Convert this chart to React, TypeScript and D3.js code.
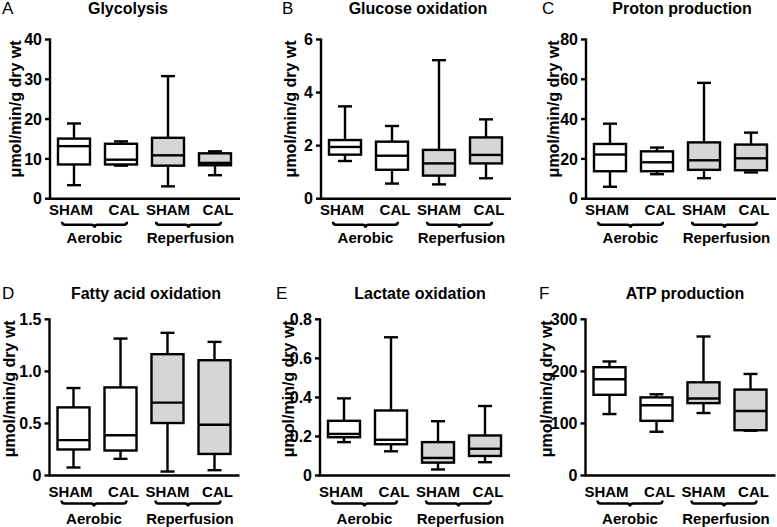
import React from "react";
import * as d3 from "d3";

const W = 777;
const H = 527;
const FONT = "'Liberation Sans', Arial, Helvetica, sans-serif";

const groupLabels = ["SHAM", "CAL", "SHAM", "CAL"];
const conditions = ["Aerobic", "Reperfusion"];
const isReperfusion = [false, false, true, true];

// each group: [whisker low, q1, median, q3, whisker high]
const glycolysis = [
  [3.4, 8.6, 13.2, 15.1, 18.9],
  [8.3, 8.6, 9.8, 13.8, 14.4],
  [3.1, 8.3, 10.9, 15.3, 30.8],
  [5.9, 8.4, 9.0, 11.4, 11.9],
];
const glucoseOxidation = [
  [1.42, 1.66, 1.95, 2.21, 3.48],
  [0.57, 1.09, 1.62, 2.15, 2.74],
  [0.54, 0.87, 1.33, 1.84, 5.22],
  [0.77, 1.33, 1.65, 2.31, 2.99],
];
const protonProduction = [
  [6, 13.8, 22.2, 27.5, 37.7],
  [12.3, 13.8, 18.3, 23.8, 25.7],
  [10.3, 14.5, 19.3, 28.3, 58.2],
  [13.2, 14.3, 20.3, 27.2, 33.2],
];
const fattyAcidOxidation = [
  [0.077, 0.25, 0.34, 0.654, 0.84],
  [0.16, 0.24, 0.386, 0.846, 1.315],
  [0.038, 0.504, 0.7, 1.165, 1.37],
  [0.051, 0.207, 0.488, 1.107, 1.283],
];
const lactateOxidation = [
  [0.171, 0.196, 0.213, 0.28, 0.395],
  [0.124, 0.16, 0.183, 0.333, 0.708],
  [0.031, 0.066, 0.09, 0.171, 0.278],
  [0.068, 0.1, 0.137, 0.205, 0.356],
];
const atpProduction = [
  [118, 155, 185, 208, 219],
  [84, 105, 135, 150, 156],
  [120, 139, 148, 179, 267],
  [86, 87, 124, 165, 195],
];

const intFmt = (d: number) => String(d);
const decFmt = (d: number) => (d === 0 ? "0" : d3.format(".1f")(d));

const panels = [
  { letter: "A", title: "Glycolysis", data: glycolysis, ticks: [0, 10, 20, 30, 40], fmt: intFmt, ax: 50, row: 0, titleX: 128, letterX: 2, ylabOff: 35 },
  { letter: "B", title: "Glucose oxidation", data: glucoseOxidation, ticks: [0, 2, 4, 6], fmt: intFmt, ax: 321, row: 0, titleX: 418, letterX: 282, ylabOff: 31 },
  { letter: "C", title: "Proton production", data: protonProduction, ticks: [0, 20, 40, 60, 80], fmt: intFmt, ax: 586, row: 0, titleX: 682, letterX: 542, ylabOff: 33 },
  { letter: "D", title: "Fatty acid oxidation", data: fattyAcidOxidation, ticks: [0, 0.5, 1.0, 1.5], fmt: decFmt, ax: 49.5, row: 1, titleX: 146, letterX: 2, ylabOff: 40 },
  { letter: "E", title: "Lactate oxidation", data: lactateOxidation, ticks: [0, 0.2, 0.4, 0.6, 0.8], fmt: decFmt, ax: 320, row: 1, titleX: 420, letterX: 276, ylabOff: 32 },
  { letter: "F", title: "ATP production", data: atpProduction, ticks: [0, 100, 200, 300], fmt: intFmt, ax: 585.5, row: 1, titleX: 685, letterX: 539, ylabOff: 39 },
];

const rows = [
  { top: 39.5, bottom: 198.7, titleY: 14, lab: 16.5, br: 26, grp: 44 },
  { top: 319.3, bottom: 475.5, titleY: 299, lab: 21, br: 28, grp: 48 },
];

const labelShift = [-3, 3, 0, 3];
const BOX_W = 32;
const CAP_W = 14;
const SW = 2.4;

function bracket(l: number, r: number, y: number) {
  const m = (l + r) / 2;
  return `M${l},${y - 3} Q${l},${y} ${l + 3},${y} H${m - 3} Q${m},${y} ${m},${y + 3} Q${m},${y} ${m + 3},${y} H${r - 3} Q${r},${y} ${r},${y - 3}`;
}

function Panel({ p }: { p: (typeof panels)[number] }) {
  const row = rows[p.row];
  const y = d3.scaleLinear().domain([0, p.ticks[p.ticks.length - 1]]).range([row.bottom, row.top]);
  const x = d3.scalePoint<number>().domain([0, 1, 2, 3]).range([p.ax + 24, p.ax + 165]);
  const axisEnd = p.ax + 190;

  return (
    <g>
      <text x={p.letterX} y={row.titleY} fontSize={17} fontFamily={FONT}>{p.letter}</text>
      <text x={p.titleX} y={row.titleY} fontSize={16} fontWeight="bold" textAnchor="middle" fontFamily={FONT}>{p.title}</text>
      <text
        transform={`translate(${p.ax - p.ylabOff},${row.top + 1}) rotate(-90)`}
        fontSize={16}
        fontWeight="bold"
        textAnchor="end"
        dominantBaseline="central"
        fontFamily={FONT}
      >
        μmol/min/g dry wt
      </text>

      {/* axes */}
      <line x1={p.ax} x2={p.ax} y1={row.top - 1} y2={row.bottom} stroke="#000" strokeWidth={SW} />
      <line x1={p.ax - 1} x2={axisEnd} y1={row.bottom} y2={row.bottom} stroke="#000" strokeWidth={SW} />
      {p.ticks.map((t) => (
        <g key={t}>
          <line x1={p.ax - 5} x2={p.ax} y1={y(t)} y2={y(t)} stroke="#000" strokeWidth={SW} />
          <text x={p.ax - 8} y={y(t)} dy="0.36em" fontSize={16} fontWeight="bold" textAnchor="end" fontFamily={FONT}>
            {p.fmt(t)}
          </text>
        </g>
      ))}

      {/* boxes */}
      {p.data.map((d, i) => {
        const cx = x(i) as number;
        const [lo, q1, med, q3, hi] = d;
        return (
          <g key={i} stroke="#000" strokeWidth={SW}>
            <line x1={cx} x2={cx} y1={y(hi)} y2={y(lo)} />
            <line x1={cx - CAP_W / 2} x2={cx + CAP_W / 2} y1={y(hi)} y2={y(hi)} />
            <line x1={cx - CAP_W / 2} x2={cx + CAP_W / 2} y1={y(lo)} y2={y(lo)} />
            <rect
              x={cx - BOX_W / 2}
              y={y(q3)}
              width={BOX_W}
              height={y(q1) - y(q3)}
              fill={isReperfusion[i] ? "#d6d6d6" : "#fff"}
            />
            <line x1={cx - BOX_W / 2} x2={cx + BOX_W / 2} y1={y(med)} y2={y(med)} />
          </g>
        );
      })}

      {/* category labels */}
      {groupLabels.map((g, i) => (
        <text
          key={i}
          x={(x(i) as number) + labelShift[i]}
          y={row.bottom + row.lab}
          fontSize={15}
          fontWeight="bold"
          textAnchor="middle"
          fontFamily={FONT}
        >
          {g}
        </text>
      ))}
      {conditions.map((c, k) => {
        const l = (x(k * 2) as number) - 12;
        const r = (x(k * 2 + 1) as number) + 6;
        return (
          <g key={c}>
            <path d={bracket(l, r, row.bottom + row.br)} fill="none" stroke="#000" strokeWidth={SW} />
            <text
              x={(l + r) / 2 + (k === 1 ? 2 : 0)}
              y={row.bottom + row.grp}
              fontSize={15}
              fontWeight="bold"
              textAnchor="middle"
              fontFamily={FONT}
            >
              {c}
            </text>
          </g>
        );
      })}
    </g>
  );
}

export default function App() {
  return (
    <svg
      width={W}
      height={H}
      viewBox={`0 0 ${W} ${H}`}
      style={{ position: "absolute", left: 0, top: 0, background: "#fff" }}
    >
      <rect width={W} height={H} fill="#fff" />
      {panels.map((p) => (
        <Panel key={p.letter} p={p} />
      ))}
    </svg>
  );
}
